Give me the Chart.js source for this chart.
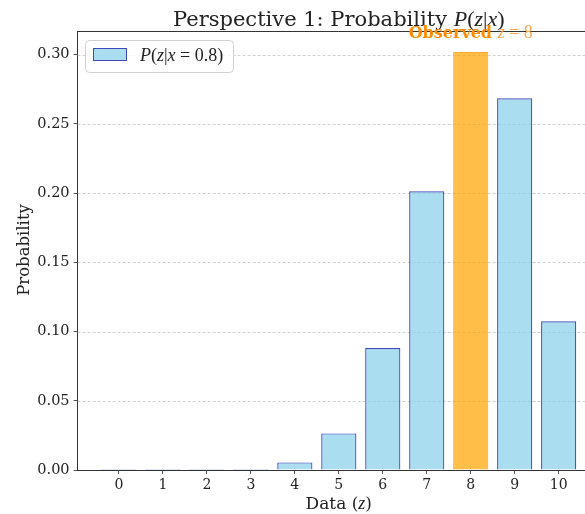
<!DOCTYPE html>
<html><head><meta charset="utf-8">
<script src="https://cdn.jsdelivr.net/npm/chart.js@4/dist/chart.umd.min.js"></script>
<style>html,body{margin:0;padding:0;overflow:hidden;background:#fff}#wrap{width:612px;height:514px;position:relative}</style>
</head><body><div id="wrap"><canvas id="c" width="612" height="514"></canvas></div>
<script>
const categories = [0,1,2,3,4,5,6,7,8,9,10];
const probabilities = [0.0000001, 0.0000041, 0.0000737, 0.000786, 0.005505, 0.026424, 0.088080, 0.201327, 0.301990, 0.268435, 0.107374];
const observedZ = 8;
const yTicks = [0.00,0.05,0.10,0.15,0.20,0.25,0.30];

const blueData = categories.map((c,i)=> ({x:c, y: c===observedZ ? null : probabilities[i]}));
const orangeData = categories.map((c,i)=> ({x:c, y: c===observedZ ? probabilities[i] : null}));

function drawRich(ctx, segs, x, y, align){
  let w=0; segs.forEach(s=>{ctx.font=s.font; s.w=ctx.measureText(s.t).width; w+=s.w;});
  let cx = align==='center' ? x-w/2 : x;
  ctx.textBaseline='alphabetic'; ctx.textAlign='left';
  segs.forEach(s=>{ctx.font=s.font; ctx.fillStyle=s.c||'#222'; ctx.fillText(s.t,cx,y); cx+=s.w;});
  return w;
}
const M='"Liberation Serif"';
const overlay = {
  id:'overlay',
  beforeDatasetsDraw(chart){
    const {ctx, chartArea:a, scales:{y}} = chart;
    ctx.save();
    ctx.strokeStyle='rgba(176,176,176,0.75)'; ctx.lineWidth=0.8; ctx.setLineDash([3,2]);
    yTicks.forEach(v=>{ if(v===0) return; const py=Math.round(y.getPixelForValue(v))+0.5;
      ctx.beginPath(); ctx.moveTo(a.left,py); ctx.lineTo(a.right,py); ctx.stroke();});
    ctx.restore();
  },
  afterDraw(chart){
    const {ctx, chartArea:a, scales:{x}} = chart;
    ctx.save();
    ctx.strokeStyle='#333'; ctx.lineWidth=1; ctx.setLineDash([]);
    ctx.beginPath(); ctx.moveTo(a.left, a.top+0.5); ctx.lineTo(a.right, a.top+0.5); ctx.stroke();
    const cx=(a.left+a.right)/2;
    drawRich(ctx,[
      {t:'Perspective 1: Probability ', font:'21px "DejaVu Serif"'},
      {t:'P', font:'italic 22px '+M},{t:'(', font:'22px '+M},{t:'z', font:'italic 22px '+M},
      {t:'|', font:'22px '+M},{t:'x', font:'italic 22px '+M},{t:')', font:'22px '+M}
    ], cx, 26, 'center');
    const ox = x.getPixelForValue(observedZ);
    drawRich(ctx,[
      {t:'Observed ', font:'bold 16px "DejaVu Serif"', c:'#FF8C00'},
      {t:'z', font:'italic 18px '+M, c:'#FFA850'},{t:' = 8', font:'18px '+M, c:'#FFA850'}
    ], ox, 38, 'center');
    const lx=85, ly=40, lw=148, lh=32;
    ctx.fillStyle='rgba(255,255,255,0.85)'; ctx.strokeStyle='#d0d0d0'; ctx.lineWidth=1;
    ctx.beginPath(); ctx.roundRect(lx+0.5,ly+0.5,lw,lh,4); ctx.fill(); ctx.stroke();
    ctx.fillStyle='rgba(135,206,235,0.7)'; ctx.fillRect(93,48,34,13);
    ctx.strokeStyle='#3f48b8'; ctx.strokeRect(93.5,48.5,33,12);
    drawRich(ctx,[
      {t:'P', font:'italic 18px '+M},{t:'(', font:'18px '+M},{t:'z', font:'italic 18px '+M},
      {t:'|', font:'18px '+M},{t:'x', font:'italic 18px '+M},{t:' = 0.8)', font:'18px '+M}
    ], 140, 61, 'left');
    drawRich(ctx,[{t:'Data (', font:'17px "DejaVu Serif"'},{t:'z', font:'italic 18px '+M},{t:')', font:'17px "DejaVu Serif"'}], cx, 509, 'center');
    ctx.translate(29, 250); ctx.rotate(-Math.PI/2);
    ctx.font='16.5px "DejaVu Serif"'; ctx.fillStyle='#222'; ctx.textAlign='center'; ctx.textBaseline='alphabetic';
    ctx.fillText('Probability',0,0);
    ctx.restore();
  }
};

new Chart(document.getElementById('c'), {
  type:'bar',
  data:{datasets:[
    {label:'P(z|x=0.8)', data:blueData, backgroundColor:'rgba(135,206,235,0.7)', borderColor:'#3f48b8', borderWidth:1.2},
    {label:'Observed', data:orangeData, backgroundColor:'rgba(255,165,0,0.72)', borderColor:'rgba(255,150,0,0.8)', borderWidth:1}
  ]},
  options:{
    responsive:false, animation:false, devicePixelRatio:1,
    layout:{padding:{top:31, right:12, left:0, bottom:0}},
    datasets:{bar:{grouped:false, categoryPercentage:1.0, barPercentage:0.8}},
    plugins:{legend:{display:false}, title:{display:false}, tooltip:{enabled:false}},
    scales:{
      x:{type:'linear', min:-0.94, max:10.94, offset:false,
        afterBuildTicks(s){ s.ticks = categories.map(v=>({value:v})); },
        afterFit(s){ s.height = 44; },
        ticks:{font:{family:'"DejaVu Serif"', size:14}, color:'#222', padding:3,
          callback:(v)=>String(v)},
        grid:{drawOnChartArea:false, offset:false, tickLength:4, tickColor:'#555'},
        border:{color:'#333', width:1}
      },
      y:{min:0, max:0.3171,
        afterBuildTicks(s){ s.ticks = yTicks.map(v=>({value:v})); },
        afterFit(s){ s.width = 77.6; },
        ticks:{font:{family:'"DejaVu Serif"', size:14.5}, color:'#222', padding:4,
          callback:(v)=>Number(v).toFixed(2)},
        grid:{drawOnChartArea:false, tickLength:4, tickColor:'#555'},
        border:{color:'#333', width:1}
      }
    }
  },
  plugins:[overlay]
});
</script></body></html>
